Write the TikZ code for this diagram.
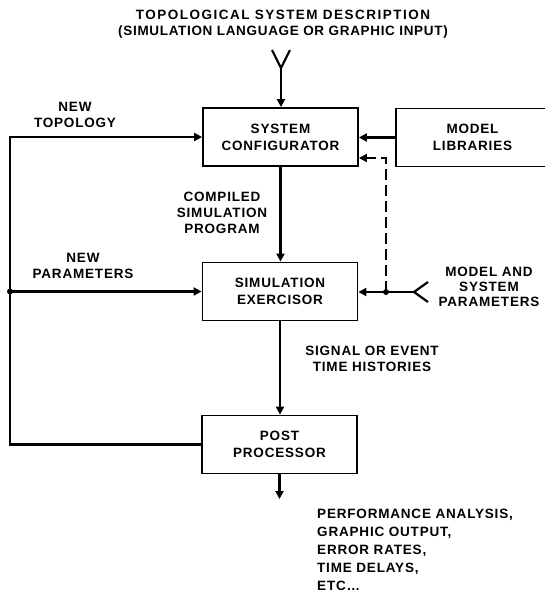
\documentclass[tikz,border=0pt]{standalone}
\usepackage{fontspec}
\setmainfont{Liberation Sans}[LetterSpace=6]
\usetikzlibrary{arrows.meta,calc}
\newcommand\dfont[1]{\fontsize{13.5}{#1}\selectfont\bfseries}
\begin{document}
\begin{tikzpicture}[x=1pt,y=-1pt,
  box/.style={draw,line width=1.8pt,minimum width=155pt,minimum height=58pt,inner sep=0pt,align=center,font=\dfont{17}},
  conn/.style={line width=2.2pt},
  arr/.style={line width=2.2pt,-{Triangle[length=8pt,width=8pt]}},
  darr/.style={line width=2pt,dash pattern=on 11pt off 5pt,-{Triangle[length=8pt,width=8pt]}},
  lbl/.style={align=center,inner sep=0pt,font=\dfont{16}},
  dot/.style={circle,fill,inner sep=0pt,minimum size=6pt}]
\useasboundingbox (0,0) rectangle (545,600);
\clip (0,0) rectangle (545,600);
% boxes
\node[box] (SC) at (280.5,137) {SYSTEM\\CONFIGURATOR};
\node[box] (SE) at (280,291.5) {SIMULATION\\EXERCISOR};
\node[box] (PP) at (279.5,444.5) {POST\\PROCESSOR};
\node[box,minimum width=153pt] (ML) at (472.5,137.5) {MODEL\\LIBRARIES};
% labels
\node[lbl] (title) at (283,24) {\addfontfeature{LetterSpace=11}TOPOLOGICAL SYSTEM DESCRIPTION\\\addfontfeature{LetterSpace=5}(SIMULATION LANGUAGE OR GRAPHIC INPUT)};
\node[lbl] (newtop) at (75,115) {NEW\\TOPOLOGY};
\node[lbl] (comp) at (222,213) {COMPILED\\SIMULATION\\PROGRAM};
\node[lbl] (newpar) at (83,266) {NEW\\PARAMETERS};
\node[lbl,font=\dfont{15}] (msp) at (489,287) {MODEL AND\\SYSTEM\\PARAMETERS};
\node[lbl] (sig) at (372,359) {SIGNAL OR EVENT\\TIME HISTORIES};
\node[lbl,align=left,anchor=north west,font=\dfont{18}] (outtxt) at (317,509) {PERFORMANCE ANALYSIS,\\GRAPHIC OUTPUT,\\ERROR RATES,\\TIME DELAYS,\\ETC\ldots};
% coordinates
\coordinate (lx) at (10,0);
\coordinate (ya) at (272,50);
\coordinate (yb) at (290,50);
\coordinate (yj) at (281,68);
\coordinate (rj) at (414,292);
\coordinate (ra) at (428,282);
\coordinate (rb) at (428,302);
\coordinate (rd) at (386,292);
\coordinate (sc2) at ($(SC.east)+(0,21)$);
\coordinate (out) at (280,499);
% top input
\draw[conn,line join=miter] (ya) -- (yj) -- (yb);
\draw[arr] (yj) -- (yj |- SC.north);
% model libraries
\draw[arr] (ML.west) -- (ML.west -| SC.east);
% main chain
\draw[arr] (SC.south) -- (SC.south |- SE.north);
\draw[arr] (SE.south) -- (SE.south |- PP.north);
\draw[arr] (PP.south) -- (PP.south |- out);
% feedback loop
\draw[arr,line join=miter] (PP.west) -- (PP.west -| lx) -- (SC.west -| lx) -- (SC.west);
\node[dot] (dl) at (SE.west -| lx) {};
\draw[arr] (dl.center) -- (SE.west);
% right input
\draw[conn,line join=miter] (ra) -- (rj) -- (rb);
\draw[arr] (rj) -- (rj -| SE.east);
\node[dot] (dr) at (rd) {};
\draw[darr] (dr.center) -- (dr.center |- sc2) -- (sc2);
\end{tikzpicture}
\end{document}
